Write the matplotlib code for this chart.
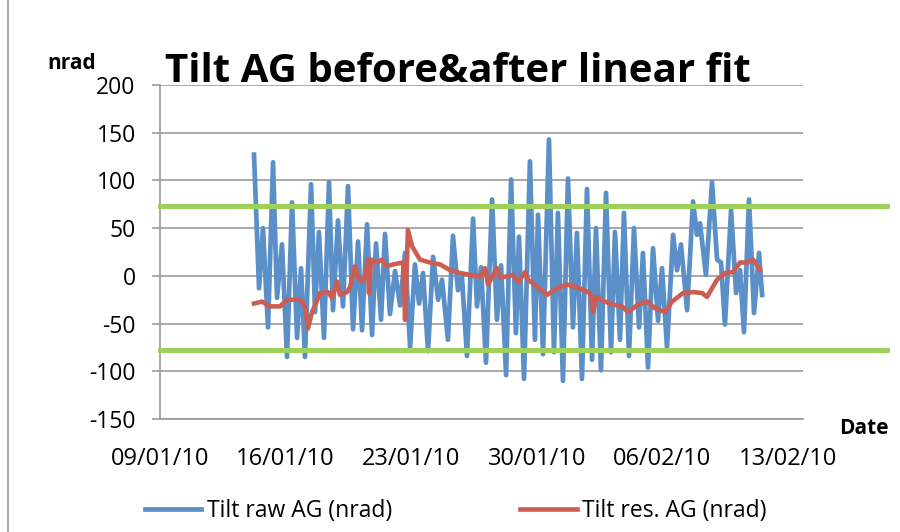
import pandas as pd
import matplotlib
matplotlib.use("Agg")
import matplotlib.pyplot as plt
import matplotlib.dates as mdates
from matplotlib.lines import Line2D

plt.rcParams['font.family'] = ['Open Sans', 'DejaVu Sans']
plt.rcParams['axes.unicode_minus'] = False

start = pd.Timestamp('2010-01-09')

# raw tilt, turning points (days after 09/01/10, nrad)
raw_days = [5.24, 5.52, 5.74, 6.02, 6.30, 6.52, 6.80, 7.08, 7.36, 7.64,
            7.86, 8.08, 8.42, 8.64, 8.86, 9.14, 9.42, 9.64, 9.92, 10.20,
            10.48, 10.76, 11.04, 11.26, 11.54, 11.82, 12.04, 12.32, 12.54, 12.82,
            13.10, 13.38, 13.66, 13.94, 14.21, 14.44, 14.66, 14.94, 15.22, 15.50,
            15.72, 16.05, 16.33, 16.61, 16.83, 17.11, 17.45, 17.67, 17.89, 18.17,
            18.51, 18.78, 19.01, 19.29, 19.57, 19.84, 20.01, 20.29, 20.62, 20.90,
            21.07, 21.35, 21.68, 21.96, 22.18, 22.46, 22.74, 23.02, 23.24, 23.52,
            23.80, 24.08, 24.30, 24.58, 24.86, 25.14, 25.36, 25.64, 25.86, 26.14,
            26.42, 26.70, 26.92, 27.20, 27.48, 27.76, 27.98, 28.26, 28.60, 28.82,
            29.04, 29.38, 29.71, 29.93, 30.10, 30.43, 30.77, 31.05, 31.27, 31.49,
            31.83, 32.11, 32.33, 32.55, 32.83, 33.11, 33.39, 33.56]
raw_vals = [127, -13, 50, -54, 119, -23, 33, -85, 77, -65,
            8, -85, 96, -38, 46, -65, 98, -36, 58, -32,
            94, -56, 36, -57, 54, -62, 34, -46, 44, -40,
            5, -31, 24, -75, 12, -29, 3, -79, 20, -25,
            -4, -67, 42, -15, -1, -84, 60, -32, 9, -91,
            80, -46, 11, -104, 101, -60, 41, -108, 120, -67,
            64, -82, 143, -80, 66, -110, 102, -54, 45, -108,
            91, -88, 50, -99, 87, -80, 46, -67, 66, -84,
            50, -54, 24, -96, 29, -47, 8, -75, 43, 6,
            33, -36, 78, 43, 55, 1, 98, 17, 14, -51,
            69, -18, 6, -59, 80, -39, 24, -20]

# residual after linear fit
res_days = [5.24, 5.69, 6.13, 6.69, 7.08, 7.80, 8.08, 8.25, 8.47, 8.64,
            8.92, 9.36, 9.59, 9.87, 10.03, 10.42, 10.59, 10.87, 11.04, 11.26,
            11.43, 11.59, 11.65, 11.76, 12.10, 12.37, 12.65, 12.99, 13.55, 13.66,
            13.82, 14.05, 14.49, 15.05, 15.61, 16.16, 16.72, 17.28, 17.84, 18.12,
            18.28, 18.78, 18.95, 19.68, 19.96, 20.35, 20.51, 21.01, 21.57, 22.13,
            22.69, 23.24, 23.97, 24.14, 24.30, 24.80, 25.25, 25.75, 26.09, 26.64,
            27.15, 27.59, 28.15, 28.54, 29.15, 29.71, 30.21, 30.49, 31.05, 31.49,
            31.94, 32.33, 32.72, 33.06, 33.45]
res_vals = [-29, -27, -32, -32, -25, -25, -32, -55, -38, -31,
            -18, -17, -23, -6, -20, -17, -12, 10, -1, -6,
            -1, 17, -18, 17, 14, 17, 10, 12, 14, -46,
            48, 31, 17, 14, 12, 6, 3, 1, -1, 8,
            -9, 8, -2, 1, -7, 4, -4, -11, -20, -13,
            -9, -12, -18, -38, -22, -27, -30, -32, -38, -30,
            -27, -34, -38, -27, -18, -17, -18, -22, -4, 3,
            4, 14, 14, 17, 6]

limits = [73, -78]

raw_t = start + pd.to_timedelta(raw_days, unit='D')
res_t = start + pd.to_timedelta(res_days, unit='D')

fig = plt.figure(figsize=(9, 5.32), dpi=100)
ax = fig.add_axes([160 / 900, 1 - 419 / 532, 643 / 900, 334 / 532])

blue, = ax.plot(raw_t, raw_vals, color='#5A8FC8', lw=3.4,
                solid_joinstyle='round', label='Tilt raw AG (nrad)', zorder=3)
red, = ax.plot(res_t, res_vals, color='#CC5D52', lw=3.3,
               solid_joinstyle='round', label='Tilt res. AG (nrad)', zorder=4)

# green limits run past the plot area, as in the original sheet
for lim in limits:
    ax.plot([0, 1.131], [lim, lim], transform=ax.get_yaxis_transform(),
            color='#9DD15B', lw=3.6, clip_on=False, zorder=5)

ax.set_ylim(-150, 200)
ax.set_yticks(range(-150, 201, 50))
ax.set_xlim(start, start + pd.Timedelta(days=35.84))
ax.set_xticks([start + pd.Timedelta(days=7 * k) for k in range(6)])
ax.xaxis.set_major_formatter(mdates.DateFormatter('%d/%m/%y'))

for s in ['top', 'right']:
    ax.spines[s].set_visible(False)
for s in ['left', 'bottom']:
    ax.spines[s].set_color('#999999')
    ax.spines[s].set_linewidth(1.2)
ax.yaxis.grid(True, color='#999999', lw=1.2)
ax.set_axisbelow(True)
ax.tick_params(axis='x', length=0, pad=20, labelsize=17)
ax.tick_params(axis='y', length=5.5, width=1.2, color='#999999', pad=12, labelsize=16.5)

fig.text(458 / 900, 1 - 82 / 532, 'Tilt AG before&after linear fit',
         ha='center', va='baseline', fontsize=29, fontweight='bold')
fig.text(72 / 900, 1 - 69 / 532, 'nrad', ha='center', va='baseline',
         fontsize=15, fontweight='bold')
fig.text(864 / 900, 1 - 434 / 532, 'Date', ha='center', va='baseline',
         fontsize=15, fontweight='bold')

fig.legend(handles=[blue, red], loc='center left',
           bbox_to_anchor=(145 / 900, 1 - 511 / 532), ncol=2, frameon=False,
           fontsize=16.5, handlelength=2.45, handletextpad=0.25,
           columnspacing=5.6, borderpad=0, borderaxespad=0)

fig.add_artist(Line2D([7.5 / 900, 7.5 / 900], [0, 1], color='#999999', lw=1.2))

fig.savefig('out.png', dpi=100)
